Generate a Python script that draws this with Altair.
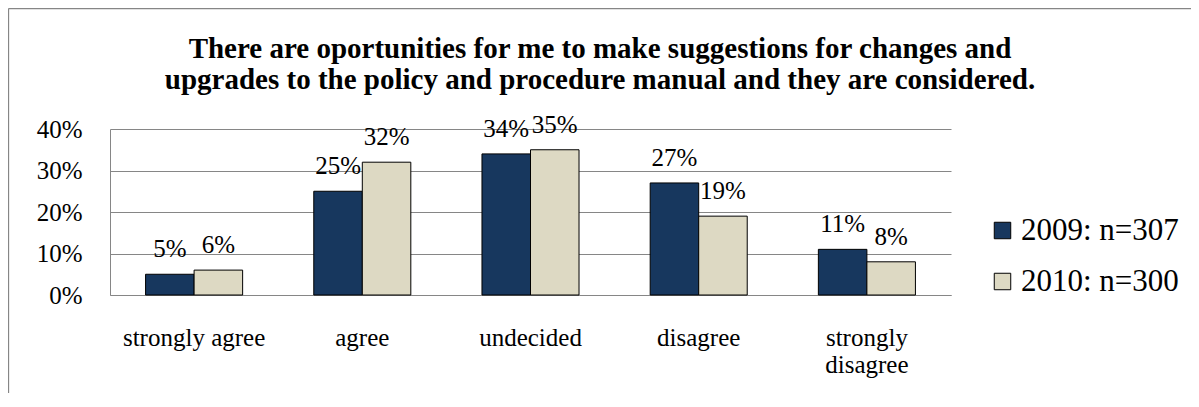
import altair as alt
import pandas as pd

# ---- data ----
categories = ["strongly agree", "agree", "undecided", "disagree", "strongly disagree"]
series_names = ["2009: n=307", "2010: n=300"]
values_2009 = [5, 25, 34, 27, 11]
values_2010 = [6, 32, 35, 19, 8]
y_ticks = [0, 0.1, 0.2, 0.3, 0.4]
title_lines = [
    "There are oportunities for me to make suggestions for changes and",
    "upgrades to the policy and procedure manual and they are considered.",
]
colors = ["#17375E", "#DDD9C3"]

rows = []
for cat, v in zip(categories, values_2009):
    rows.append({"category": cat, "series": series_names[0], "value": v / 100})
for cat, v in zip(categories, values_2010):
    rows.append({"category": cat, "series": series_names[1], "value": v / 100})
df = pd.DataFrame(rows)

FONT = "Liberation Serif"
GRAY = "#868686"

x_enc = alt.X(
    "category:N",
    sort=categories,
    scale=alt.Scale(paddingInner=0.423, paddingOuter=0.2115),
    axis=alt.Axis(
        title=None,
        labelAngle=0,
        ticks=False,
        tickSize=0,
        domainColor=GRAY,
        domainWidth=1,
        labelFont=FONT,
        labelFontSize=25,
        labelColor="black",
        labelBaseline="alphabetic",
        labelPadding=50,
        labelLineHeight=27,
        labelExpr="datum.label == 'strongly disagree' ? ['strongly', 'disagree'] : datum.label",
    ),
)
y_enc = alt.Y(
    "value:Q",
    scale=alt.Scale(domain=[0, 0.4], nice=False),
    axis=alt.Axis(
        title=None,
        values=y_ticks,
        format=".0%",
        grid=True,
        gridColor=GRAY,
        gridWidth=1,
        domainColor=GRAY,
        domainWidth=1,
        ticks=False,
        tickSize=0,
        labelFont=FONT,
        labelFontSize=25,
        labelColor="black",
        labelPadding=28,
    ),
)
xoff = alt.XOffset("series:N", sort=series_names, scale=alt.Scale(paddingInner=0, paddingOuter=0))

base = alt.Chart(df)

bars = base.mark_bar(stroke="black", strokeWidth=1).encode(
    x=x_enc,
    xOffset=xoff,
    y=y_enc,
    color=alt.Color(
        "series:N",
        sort=series_names,
        scale=alt.Scale(domain=series_names, range=colors),
        legend=alt.Legend(
            title=None,
            orient="none",
            legendX=877,
            legendY=86,
            symbolType="square",
            symbolSize=272,
            symbolStrokeColor="black",
            symbolStrokeWidth=1,
            labelFont=FONT,
            labelFontSize=31,
            labelColor="black",
            labelOffset=3,
            rowPadding=19,
            labelLimit=400,
        ),
    ),
)

labels = base.mark_text(
    font=FONT, fontSize=25, color="black", baseline="alphabetic", align="center", dy=-17
).encode(
    x=alt.X("category:N", sort=categories),
    xOffset=alt.XOffset("series:N", sort=series_names),
    y="value:Q",
    text=alt.Text("value:Q", format=".0%"),
)

one = alt.Data(values=[{"k": 0}])
title = alt.Chart(one).mark_text(
    text=title_lines,
    font=FONT,
    fontSize=29,
    fontWeight="bold",
    color="black",
    align="center",
    baseline="alphabetic",
    lineHeight=31,
).encode(x=alt.value(490), y=alt.value(-71))

border_top = alt.Chart(one).mark_rule(color=GRAY, strokeWidth=1.3).encode(
    x=alt.value(-101.5), x2=alt.value(1200), y=alt.value(-120.5)
)
border_left = alt.Chart(one).mark_rule(color=GRAY, strokeWidth=1.3).encode(
    x=alt.value(-101.5), y=alt.value(-120.5), y2=alt.value(400)
)

chart = (
    alt.layer(bars, labels, title, border_top, border_left)
    .properties(
        width=841,
        height=166,
        autosize=alt.AutoSizeParams(type="none"),
        padding={"left": 102, "top": 121, "right": 240, "bottom": 98},
        background="white",
    )
    .configure_view(stroke=None)
)

chart.save("out.html", embed_options={"renderer": "svg", "actions": False})
